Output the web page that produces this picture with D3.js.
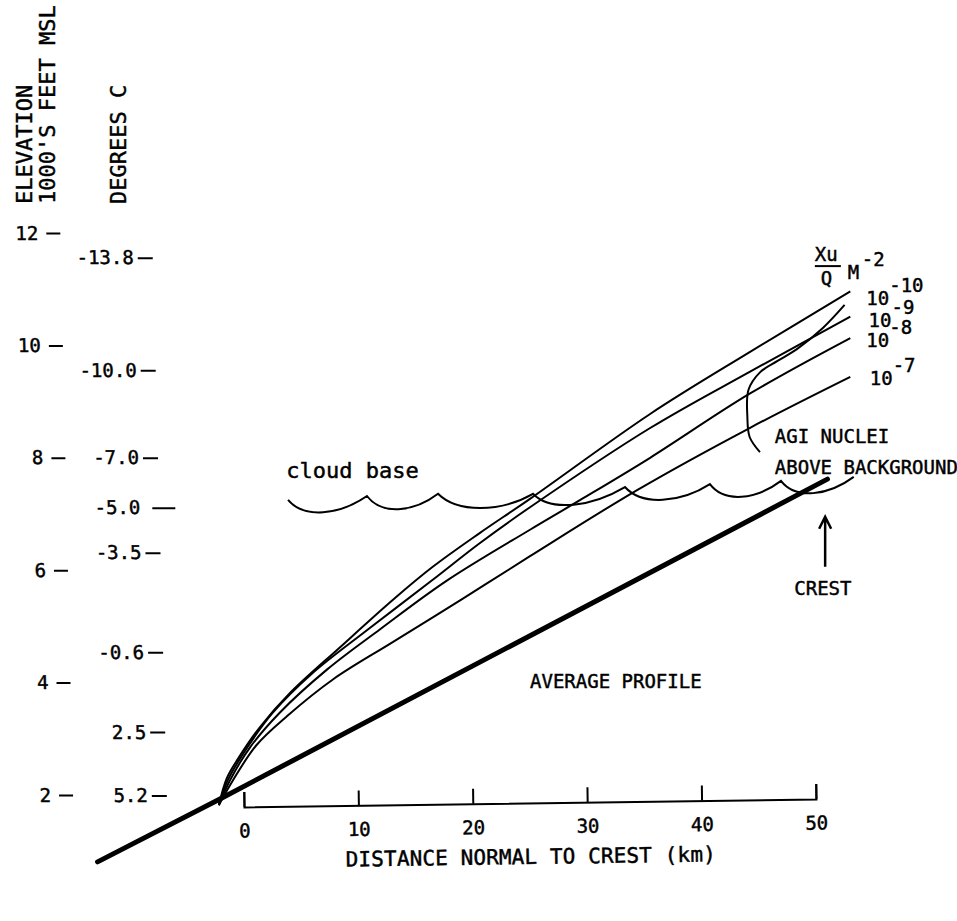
<!DOCTYPE html>
<html>
<head>
<meta charset="utf-8">
<script src="https://cdn.jsdelivr.net/npm/d3@7"></script>
<style>
  body { margin: 0; background: #fff; }
  text { font-family: "DejaVu Sans Mono", monospace; fill: #000; stroke: #000; stroke-width: 0.45px; }
  .tick line, .domain { stroke: #000; stroke-width: 2px; }
</style>
</head>
<body>
<div id="graph"></div>
<script>
// left axes: elevation (1000's ft) and the temperature at that elevation
const elevTicks = [2, 4, 6, 8, 10, 12];
const tempLabels = ["-13.8", "-10.0", "-7.0", "-5.0", "-3.5", "-0.6", "2.5", "5.2"];
const tempElev = [11.56, 9.56, 8.0, 7.11, 6.31, 4.54, 3.12, 1.99];

// bottom axis: distance normal to crest (km)
const distTicks = [0, 10, 20, 30, 40, 50];

// average terrain profile (km, 1000's ft)
const profileKm = [-12.8, -2.1, 51.0];
const profileKft = [0.81, 1.93, 7.62];

// Xu/Q isolines, exponent of 10
const isoExp = ["-10", "-9", "-8", "-7"];
const iso10Km = [-2.2, -1.5, -0.6, 1.4, 4.0, 8.4, 13.0, 16.5, 20.6, 25.0, 35.5, 44.2, 53.0];
const iso10Kft = [1.82, 2.30, 2.62, 3.21, 3.81, 4.63, 5.47, 6.06, 6.66, 7.27, 8.78, 9.88, 10.96];
const iso9Km = [-2.2, -1.4, 0.3, 2.5, 6.0, 10.8, 16.5, 20.6, 25.0, 35.5, 44.2, 53.0];
const iso9Kft = [1.82, 2.27, 2.85, 3.46, 4.17, 4.94, 5.83, 6.48, 7.12, 8.53, 9.53, 10.51];
const iso8Km = [-2.2, -1.2, 0.5, 3.1, 7.3, 11.9, 17.7, 25.0, 29.4, 35.5, 44.2, 53.0];
const iso8Kft = [1.82, 2.27, 2.84, 3.46, 4.24, 4.95, 5.81, 6.72, 7.25, 8.00, 9.14, 10.13];
const iso7Km = [-2.2, -1.0, 1.1, 3.8, 7.8, 13.0, 19.1, 25.0, 34.4, 44.2, 53.0];
const iso7Kft = [1.82, 2.25, 2.89, 3.41, 4.06, 4.72, 5.49, 6.25, 7.43, 8.53, 9.44];

// boundary of AgI nuclei above background
const agiKm = [52.5, 50.6, 48.3, 46.6, 45.1, 44.1, 44.0, 44.2, 45.1];
const agiKft = [10.72, 10.31, 9.93, 9.72, 9.52, 9.21, 8.73, 8.37, 8.10];

// cloud base scallop cusps
const cloudKm = [3.85, 10.75, 16.96, 25.26, 33.3, 40.73, 46.94, 53.3];
const cloudKft = [7.25, 7.32, 7.36, 7.36, 7.48, 7.53, 7.59, 7.66];

const W = 957, H = 921;

const svg = d3.select("#graph")
  .append("svg")
  .attr("width", W)
  .attr("height", H);

const x = d3.scaleLinear().domain([0, 50]).range([244, 816]);
const y = d3.scaleLinear().domain([2, 12]).range([795, 233]);

//axis titles, rotated
const titles = [
  { t: "ELEVATION", bx: 32 },
  { t: "1000'S FEET MSL", bx: 55 },
  { t: "DEGREES C", bx: 126 }
];
svg.selectAll("text.ytitle")
  .data(titles)
  .enter()
  .append("text")
  .attr("class", "ytitle")
  .attr("transform", d => "translate(" + d.bx + ",204) rotate(-90)")
  .style("font-size", "22px")
  .text(d => d.t);

//elevation axis (hand drawn, drifts slightly right going down)
const elevAxis = svg.append("g")
  .attr("transform", "translate(55,0) skewX(1.3)")
  .call(d3.axisLeft(y).tickValues(elevTicks).tickSize(14).tickPadding(8).tickFormat(d3.format("d")));
elevAxis.select(".domain").remove();

//temperature axis
const tempAxis = svg.append("g")
  .attr("transform", "translate(146,0) skewX(1.5)")
  .call(d3.axisLeft(y).tickValues(tempElev).tickSize(15).tickPadding(4)
    .tickFormat((d, i) => tempLabels[i]));
tempAxis.select(".domain").remove();
// the -5.0 dash is set off further and drawn longer
tempAxis.selectAll(".tick")
  .filter((d, i) => tempLabels[i] === "-5.0")
  .select("line")
  .attr("x1", 16)
  .attr("x2", -7);

svg.selectAll(".tick text")
  .style("font-family", "'DejaVu Sans Mono', monospace")
  .style("font-size", "19px")
  .attr("fill", "#000");

//distance axis, bracket with ticks pointing up, slightly tilted
const xAxisG = svg.append("g")
  .attr("transform", "translate(0,807) rotate(-0.8," + x(0) + ",0)");
xAxisG.call(d3.axisBottom(x).tickValues(distTicks).tickSize(-15).tickPadding(17));
xAxisG.selectAll(".tick text").style("font-size", "19px");
xAxisG.append("text")
  .attr("x", x(25))
  .attr("y", 61)
  .attr("text-anchor", "middle")
  .attr("textLength", 370)
  .attr("lengthAdjust", "spacing")
  .style("font-size", "21px")
  .text("DISTANCE NORMAL TO CREST  (km)");

//average profile
const straight = d3.line().x(d => x(d[0])).y(d => y(d[1]));
svg.append("path")
  .datum(d3.zip(profileKm, profileKft))
  .attr("d", straight)
  .attr("fill", "none")
  .attr("stroke", "#000")
  .attr("stroke-width", 5)
  .attr("stroke-linecap", "round");

//isolines
const smooth = d3.line()
  .x(d => x(d[0]))
  .y(d => y(d[1]))
  .curve(d3.curveCatmullRom.alpha(0.5));

const isoKm = [iso10Km, iso9Km, iso8Km, iso7Km];
const isoKft = [iso10Kft, iso9Kft, iso8Kft, iso7Kft];
svg.selectAll("path.iso")
  .data(isoKm.map((k, i) => d3.zip(k, isoKft[i])))
  .enter()
  .append("path")
  .attr("class", "iso")
  .attr("d", smooth)
  .attr("fill", "none")
  .attr("stroke", "#000")
  .attr("stroke-width", 2);

//AgI boundary
svg.append("path")
  .datum(d3.zip(agiKm, agiKft))
  .attr("d", smooth)
  .attr("fill", "none")
  .attr("stroke", "#000")
  .attr("stroke-width", 2);

//cloud base scallops
const cloudPath = d3.path();
cloudKm.forEach(function (k, i) {
  const px = x(k), py = y(cloudKft[i]);
  if (i === 0) {
    cloudPath.moveTo(px, py);
    return;
  }
  const px0 = x(cloudKm[i - 1]), py0 = y(cloudKft[i - 1]);
  const w = px - px0, sag = 19;
  cloudPath.bezierCurveTo(px0 + w * 0.2, py0 + sag, px - w * 0.35, py + sag, px, py);
});
svg.append("path")
  .attr("d", cloudPath.toString())
  .attr("fill", "none")
  .attr("stroke", "#000")
  .attr("stroke-width", 2);

//crest arrow
const ax = x(50.8), aTop = y(6.95), aBot = y(6.06);
svg.append("path")
  .attr("d", "M" + ax + "," + aBot + "V" + aTop + "M" + (ax - 6) + "," + (aTop + 12) + "L" + ax + "," + aTop + "L" + (ax + 6) + "," + (aTop + 12))
  .attr("fill", "none")
  .attr("stroke", "#000")
  .attr("stroke-width", 2.5);

//annotations
const notes = [
  { t: "cloud base", km: 3.7, kft: 7.64, a: "start", fs: 22 },
  { t: "AGI NUCLEI", km: 46.4, kft: 8.26, a: "start", fs: 19 },
  { t: "ABOVE BACKGROUND", km: 46.4, kft: 7.71, a: "start", fs: 19 },
  { t: "AVERAGE PROFILE", km: 25.0, kft: 3.91, a: "start", fs: 19 },
  { t: "CREST", km: 50.6, kft: 5.55, a: "middle", fs: 19 }
];
svg.selectAll("text.note")
  .data(notes)
  .enter()
  .append("text")
  .attr("class", "note")
  .attr("x", d => x(d.km))
  .attr("y", d => y(d.kft))
  .attr("text-anchor", d => d.a)
  .style("font-size", d => d.fs + "px")
  .text(d => d.t);

//isoline labels 10^n
const isoLabelKm = [54.4, 54.6, 54.4, 54.7];
const isoLabelKft = [10.72, 10.33, 9.97, 9.30];
const isoLab = svg.selectAll("text.iso")
  .data(isoExp)
  .enter()
  .append("text")
  .attr("class", "iso")
  .attr("x", (d, i) => x(isoLabelKm[i]))
  .attr("y", (d, i) => y(isoLabelKft[i]))
  .style("font-size", "19px");
isoLab.append("tspan").text("10");
isoLab.append("tspan").attr("dy", -13).text(d => d);

//Xu/Q M-2 key
const key = svg.append("g").attr("transform", "translate(" + x(49.9) + "," + y(11.5) + ")");
key.append("text").attr("x", 0).attr("y", 0).style("font-size", "19px").text("Xu");
key.append("line").attr("x1", 0).attr("x2", 26).attr("y1", 5).attr("y2", 5)
  .attr("stroke", "#000").attr("stroke-width", 2);
key.append("text").attr("x", 6).attr("y", 24).style("font-size", "19px").text("Q");
key.append("text").attr("x", 33).attr("y", 18).style("font-size", "19px").text("M");
key.append("text").attr("x", 47).attr("y", 5).style("font-size", "19px").text("-2");
</script>
</body>
</html>
